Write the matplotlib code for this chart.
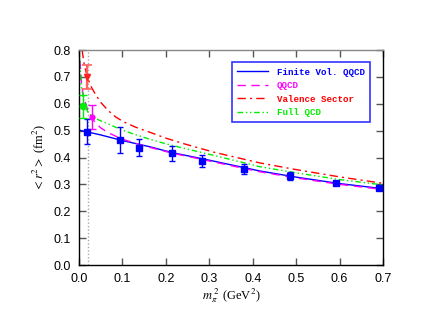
import matplotlib
matplotlib.use("Agg")
import matplotlib.pyplot as plt

plt.rcParams['mathtext.fontset'] = 'stix'

# Data points (lattice)
blue_x = [0.019, 0.094, 0.138, 0.215, 0.284, 0.380, 0.486, 0.593, 0.691]
blue_y = [0.496, 0.465, 0.437, 0.415, 0.387, 0.357, 0.330, 0.305, 0.288]
blue_e = [0.047, 0.049, 0.032, 0.029, 0.021, 0.017, 0.015, 0.009, 0.008]

red_x = [0.019]
red_y = [0.700]
red_e = [0.045]

green_x = [0.010]
green_y = [0.590]
green_e = [0.044]

mag_x = [0.030]
mag_y = [0.550]
mag_e = [0.044]

# Curves
fv_x = [0.0, 0.05, 0.1, 0.163, 0.215, 0.3, 0.416, 0.5, 0.6, 0.7]
fv_y = [0.502, 0.484, 0.463, 0.440, 0.418, 0.390, 0.350, 0.327, 0.303, 0.284]

qq_x = [0.002, 0.006, 0.01, 0.02, 0.035, 0.05, 0.07, 0.1, 0.15, 0.215, 0.3, 0.416, 0.5, 0.6, 0.7]
qq_y = [0.760, 0.670, 0.630, 0.575, 0.535, 0.510, 0.490, 0.468, 0.443, 0.416, 0.387, 0.347, 0.324, 0.300, 0.281]

val_x = [0.007, 0.012, 0.019, 0.027, 0.036, 0.05, 0.067, 0.085, 0.105, 0.13, 0.163, 0.2, 0.24, 0.31, 0.416, 0.5, 0.6, 0.7]
val_y = [0.800, 0.745, 0.700, 0.666, 0.640, 0.605, 0.575, 0.550, 0.531, 0.513, 0.494, 0.472, 0.452, 0.420, 0.380, 0.355, 0.328, 0.304]

full_x = [0.001, 0.005, 0.012, 0.02, 0.03, 0.045, 0.067, 0.085, 0.105, 0.13, 0.163, 0.2, 0.24, 0.31, 0.416, 0.5, 0.6, 0.7]
full_y = [0.770, 0.670, 0.600, 0.570, 0.553, 0.540, 0.525, 0.512, 0.499, 0.485, 0.468, 0.451, 0.435, 0.408, 0.366, 0.343, 0.318, 0.298]

labels = ["Finite Vol. QQCD", "QQCD", "Valence Sector", "Full QCD"]
colors = ["#0000ff", "#ff00ff", "#ff0000", "#00ee00"]

fig = plt.figure(figsize=(4.25, 3.29), dpi=100)
ax = fig.add_axes([0.186, 0.1945, 0.715, 0.6535])

ax.axvline(0.0195, color="#aaaaaa", linestyle=(0, (1, 1.5)), linewidth=1.0, zorder=1)

l1, = ax.plot(fv_x, fv_y, color=colors[0], linestyle='-', linewidth=1.0, label=labels[0])
l2, = ax.plot(qq_x, qq_y, color=colors[1], linestyle=(0, (6, 4)), linewidth=1.0, label=labels[1])
l3, = ax.plot(val_x, val_y, color=colors[2], linestyle=(0, (6, 3, 1.5, 3)), linewidth=1.0, label=labels[2])
l4, = ax.plot(full_x, full_y, color=colors[3], linestyle=(0, (4, 2, 1, 2, 1, 2)), linewidth=1.0, label=labels[3])

ax.errorbar(blue_x, blue_y, yerr=blue_e, fmt='s', color=colors[0], markersize=4.5,
            capsize=2.5, elinewidth=1.0, capthick=1.0, zorder=5)
ax.errorbar(red_x, red_y, yerr=red_e, fmt='v', color="#ff2020", ecolor="#ff6060", markersize=5,
            capsize=3.5, elinewidth=1.6, capthick=1.2, zorder=5)
ax.errorbar(green_x, green_y, yerr=green_e, fmt='o', color=colors[3], markersize=4.5,
            capsize=3, elinewidth=1.0, capthick=1.0, zorder=5)
ax.errorbar(mag_x, mag_y, yerr=mag_e, fmt='o', color=colors[1], markersize=3.5,
            capsize=3, elinewidth=1.0, capthick=1.0, zorder=5)

ax.set_xlim(0.0, 0.7)
ax.set_ylim(0.0, 0.8)
ax.set_xticks([0.0, 0.1, 0.2, 0.3, 0.4, 0.5, 0.6, 0.7])
ax.set_yticks([0.0, 0.1, 0.2, 0.3, 0.4, 0.5, 0.6, 0.7, 0.8])
ax.set_xticklabels(["0.0", "0.1", "0.2", "0.3", "0.4", "0.5", "0.6", "0.7"])
ax.set_yticklabels(["0.0", "0.1", "0.2", "0.3", "0.4", "0.5", "0.6", "0.7", "0.8"])
ax.tick_params(direction='in', top=True, right=True, length=5, width=1.0,
               labelsize=9, colors='#555555', labelcolor='black', pad=6)
for lab in ax.get_xticklabels() + ax.get_yticklabels():
    lab.set_family('Liberation Sans')
for s in ax.spines.values():
    s.set_linewidth(1.0)
ax.spines['top'].set_color('#888888')
ax.spines['left'].set_color('black')

ax.set_xlabel(r'$m_\pi^{\ 2}$ (GeV$^2$)', family='Liberation Serif', fontsize=9, labelpad=1)
ax.set_ylabel(r'$<r^2>$ (fm$^2$)', family='Liberation Serif', fontsize=9, labelpad=4)

leg = ax.legend(handles=[l1, l2, l3, l4], loc='upper right', bbox_to_anchor=(0.956, 0.942),
                prop={'family': 'Liberation Mono', 'weight': 'bold', 'size': 6.6},
                frameon=True, fancybox=False, handlelength=3.4, handletextpad=0.9,
                borderpad=0.55, labelspacing=0.5, borderaxespad=0)
leg.get_frame().set_edgecolor('#0000ff')
leg.get_frame().set_linewidth(1.2)
for t, c in zip(leg.get_texts(), colors):
    t.set_color(c)

fig.savefig("out.png", dpi=100)
